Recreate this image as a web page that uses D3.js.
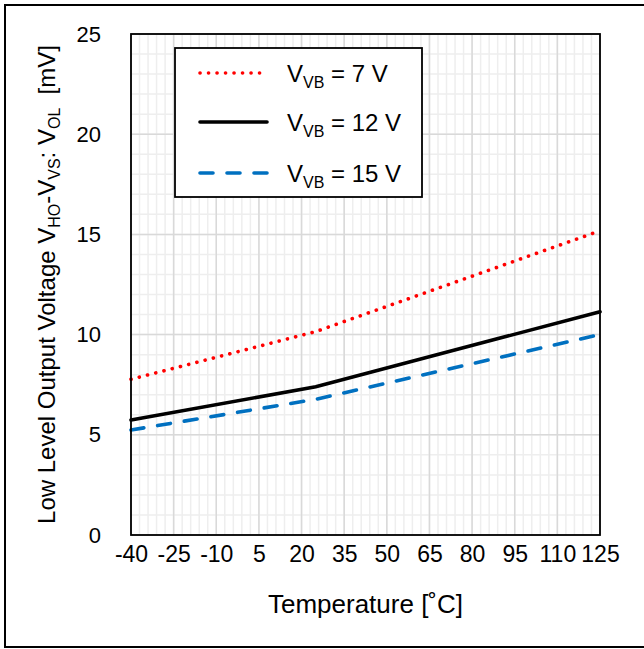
<!DOCTYPE html>
<html>
<head>
<meta charset="utf-8">
<script src="https://cdn.jsdelivr.net/npm/d3@7"></script>
<style>
  body { margin: 0; background: #fff; }
  svg text { font-family: "Liberation Sans", Arial, sans-serif; fill: #000; }
</style>
</head>
<body>
<svg id="chart"></svg>
<script>
const totalWidth = 644;
const totalHeight = 649;

// data
const temps = [-40, 25, 125];
const vb7 = [7.77, 10.15, 15.18];
const vb12 = [5.74, 7.4, 11.14];
const vb15 = [5.24, 6.77, 10.0];
const xTicks = [-40, -25, -10, 5, 20, 35, 50, 65, 80, 95, 110, 125];
const yTicks = [0, 5, 10, 15, 20, 25];
const seriesNames = ["7 V", "12 V", "15 V"];

const svg = d3.select('#chart')
    .attr('width', totalWidth)
    .attr('height', totalHeight);

const plot = { left: 131, right: 600, top: 34, bottom: 535 };

const x = d3.scaleLinear().domain([-40, 125]).range([plot.left, plot.right]);
const y = d3.scaleLinear().domain([0, 25]).range([plot.bottom, plot.top]);

// outer frame
svg.append("rect")
    .attr("x", 5).attr("y", 5)
    .attr("width", 700).attr("height", 642)
    .attr("fill", "none")
    .attr("stroke", "#000")
    .attr("stroke-width", 2);

// minor grid
const grid = svg.append("g");
grid.selectAll(".vminor")
    .data(d3.range(-40, 125.1, 3))
    .enter().append("line")
    .attr("x1", d => x(d)).attr("x2", d => x(d))
    .attr("y1", plot.top).attr("y2", plot.bottom)
    .attr("stroke", "#eeeeee").attr("stroke-width", 1.5);
grid.selectAll(".hminor")
    .data(d3.range(0, 25.1, 1))
    .enter().append("line")
    .attr("x1", plot.left).attr("x2", plot.right)
    .attr("y1", d => y(d)).attr("y2", d => y(d))
    .attr("stroke", "#eeeeee").attr("stroke-width", 1.5);
// major grid
grid.selectAll(".vmajor")
    .data(xTicks)
    .enter().append("line")
    .attr("x1", d => x(d)).attr("x2", d => x(d))
    .attr("y1", plot.top).attr("y2", plot.bottom)
    .attr("stroke", "#d9d9d9").attr("stroke-width", 1.5);
grid.selectAll(".hmajor")
    .data(yTicks)
    .enter().append("line")
    .attr("x1", plot.left).attr("x2", plot.right)
    .attr("y1", d => y(d)).attr("y2", d => y(d))
    .attr("stroke", "#d9d9d9").attr("stroke-width", 1.5);

// series
const line = d3.line().x(d => x(d[0])).y(d => y(d[1]));
const series = [
    { name: seriesNames[0], values: vb7, color: "#ff0000", dash: "0.1 8.4", width: 3.6 },
    { name: seriesNames[1], values: vb12, color: "#000000", dash: null, width: 3.6 },
    { name: seriesNames[2], values: vb15, color: "#0070c0", dash: "13 14", width: 3.6 }
];

series.forEach(s => {
    svg.append("path")
        .datum(temps.map((t, i) => [t, s.values[i]]))
        .attr("d", line)
        .attr("fill", "none")
        .attr("stroke", s.color)
        .attr("stroke-width", s.width)
        .attr("stroke-linecap", "round")
        .attr("stroke-dasharray", s.dash);
});

// plot border
svg.append("rect")
    .attr("x", plot.left).attr("y", plot.top)
    .attr("width", plot.right - plot.left)
    .attr("height", plot.bottom - plot.top)
    .attr("fill", "none")
    .attr("stroke", "#000")
    .attr("stroke-width", 1.8);

// axes
const xAxis = svg.append("g")
    .attr("transform", `translate(0,${plot.bottom})`)
    .call(d3.axisBottom(x).tickValues(xTicks).tickSize(0).tickPadding(11)
        .tickFormat(d => String(d)));
xAxis.select(".domain").remove();
xAxis.selectAll("text")
    .attr("font-size", "23px")
    .style("font-family", '"Liberation Sans", Arial, sans-serif');

const yAxis = svg.append("g")
    .attr("transform", `translate(${plot.left},0)`)
    .call(d3.axisLeft(y).tickValues(yTicks).tickSize(0).tickPadding(30)
        .tickFormat(d => String(d)));
yAxis.select(".domain").remove();
yAxis.selectAll("text")
    .attr("font-size", "22px")
    .style("font-family", '"Liberation Sans", Arial, sans-serif');

// x title
svg.append("text")
    .attr("x", (plot.left + plot.right) / 2)
    .attr("y", 613)
    .attr("text-anchor", "middle")
    .attr("font-size", "26px")
    .text("Temperature [˚C]");

// y title with subscripts
const yTitle = svg.append("text")
    .attr("transform", `translate(55,${(plot.top + plot.bottom) / 2}) rotate(-90)`)
    .attr("text-anchor", "middle")
    .attr("font-size", "24px");
const yParts = [
    ["Low Level Output Voltage V", false],
    ["HO", true],
    ["-V", false],
    ["VS", true],
    [": V", false],
    ["OL", true],
    ["\u00a0\u00a0[mV]", false]
];
yParts.forEach((p, i) => {
    yTitle.append("tspan")
        .attr("dy", p[1] ? 5 : (i > 0 ? -5 : 0))
        .attr("font-size", p[1] ? "16px" : "24px")
        .text(p[0]);
});

// legend
const legend = svg.append("g");
legend.append("rect")
    .attr("x", 175).attr("y", 48)
    .attr("width", 247).attr("height", 149)
    .attr("fill", "#fff")
    .attr("stroke", "#000")
    .attr("stroke-width", 1.8);

const rowY = [73, 122, 173];
series.forEach((s, i) => {
    legend.append("line")
        .attr("x1", 200).attr("x2", 267)
        .attr("y1", rowY[i]).attr("y2", rowY[i])
        .attr("stroke", s.color)
        .attr("stroke-width", s.width)
        .attr("stroke-linecap", "round")
        .attr("stroke-dasharray", s.dash);
    const t = legend.append("text")
        .attr("x", 287)
        .attr("y", rowY[i] + 9)
        .attr("font-size", "24px");
    t.append("tspan").text("V");
    t.append("tspan").attr("dy", 6).attr("font-size", "16px").text("VB");
    t.append("tspan").attr("dy", -6).text(" = " + s.name);
});
</script>
</body>
</html>
